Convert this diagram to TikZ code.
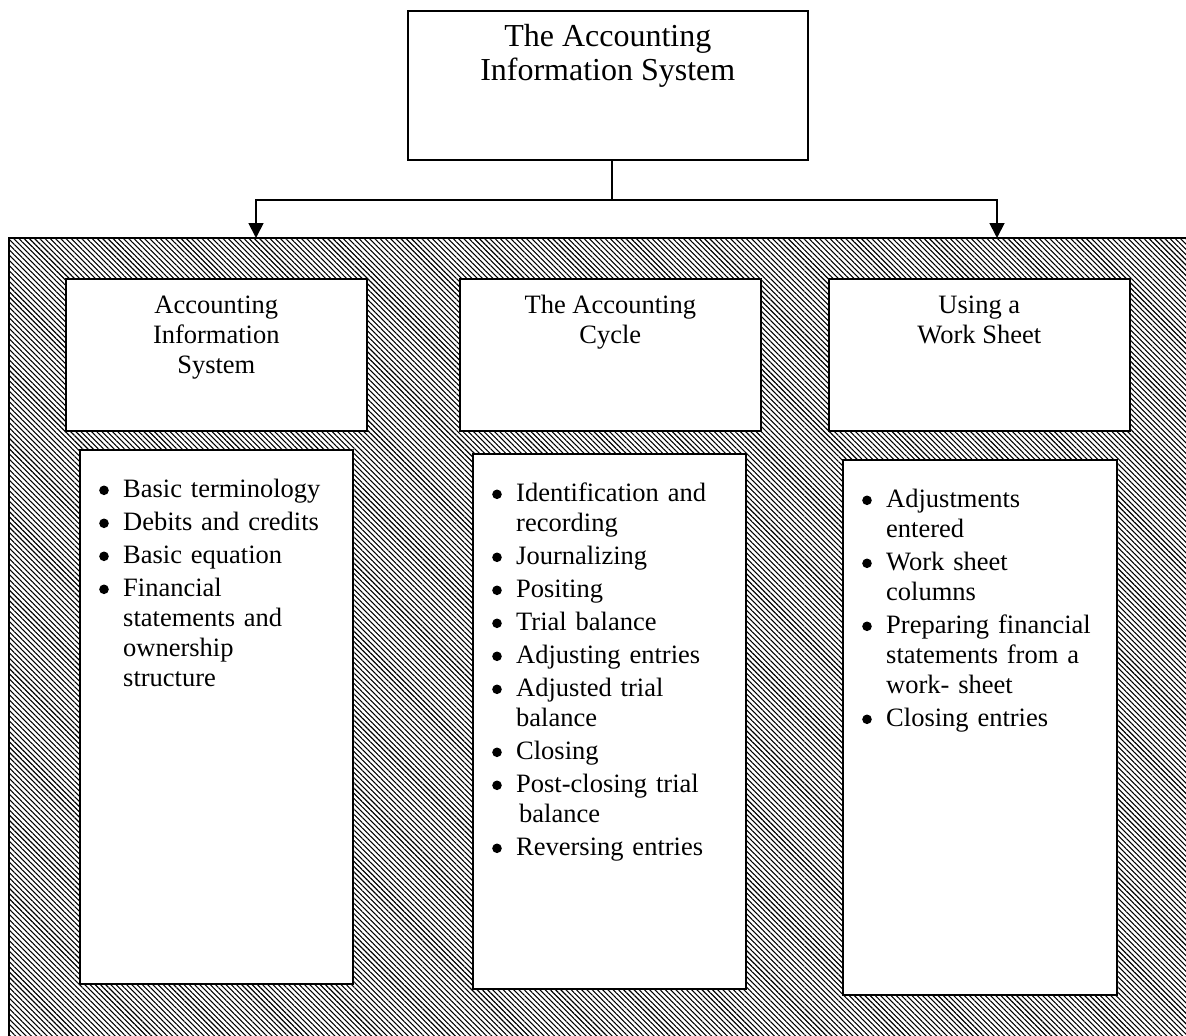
\documentclass[tikz,border=0pt]{standalone}
\usepackage{fontspec}
\setmainfont{Liberation Serif}
\usetikzlibrary{patterns.meta,arrows.meta}
\newsavebox\bulbox
\newcommand\bitem[1]{\par\parshape 2 0pt 250pt 24pt 226pt\noindent\makebox[24pt][l]{\raisebox{2.1pt}{\usebox\bulbox}}#1}
\newcommand\listsetup{\setlength{\parskip}{3pt}\rightskip=0pt plus 1fil\relax}
\begin{document}
\sbox\bulbox{\begin{pgfpicture}\pgfpathcircle{\pgfpointorigin}{4.8pt}\pgfusepath{fill}\end{pgfpicture}}%
\begin{tikzpicture}[x=1pt,y=-1pt,
  box/.style={draw,line width=1.6pt,fill=white,rectangle,inner sep=0pt,anchor=north west},
  hdrtext/.style={anchor=north,inner sep=0pt,align=center,font=\fontsize{26.5}{30}\selectfont},
  listtext/.style={anchor=north west,inner sep=0pt,text width=250pt,
     font=\fontsize{26.5}{30}\selectfont},
  conn/.style={line width=1.8pt},
  arr/.style={conn,-{Triangle[width=15pt,length=15pt]}}]
\useasboundingbox (0,0) rectangle (1186,1036);
\begin{scope}
  \clip (0,0) rectangle (1186,1036);
  \path[draw,line width=1.6pt,pattern={Lines[angle=-45,distance=3.7pt,line width=1.1pt]}]
    (9,238) rectangle (1220,1070);
\end{scope}
% top box
\node[box,minimum width=400pt,minimum height=149pt] (top) at (407,10) {};
\node[anchor=north,inner sep=0pt,align=center,font=\fontsize{32}{34}\selectfont] (toptext)
  at ([yshift=-10pt]top.north) {\rule{0pt}{26pt}The Accounting\\Information System};
% connectors
\coordinate (j) at (612,200);
\coordinate (a1) at (256,238);
\coordinate (a2) at (997,238);
\draw[conn] (top.south -| j) -- (j);
\draw[arr] (j) -| (a1);
\draw[arr] (j) -| (a2);
% headers
\node[box,minimum width=301pt,minimum height=152pt] (h1) at (65,278) {};
\node[box,minimum width=301pt,minimum height=152pt] (h2) at (459,278) {};
\node[box,minimum width=301pt,minimum height=152pt] (h3) at (828,278) {};
\node[hdrtext] (h1t) at ([yshift=-13pt]h1.north) {\rule{0pt}{22pt}Accounting\\Information\\System};
\node[hdrtext] (h2t) at ([yshift=-13pt]h2.north) {\rule{0pt}{22pt}The Accounting\\Cycle};
\node[hdrtext] (h3t) at ([yshift=-13pt]h3.north) {\rule{0pt}{22pt}Using a\\Work Sheet};
% lists
\node[box,minimum width=273pt,minimum height=534pt] (l1) at (79,449) {};
\node[box,minimum width=273pt,minimum height=535pt] (l2) at (472,453) {};
\node[box,minimum width=274pt,minimum height=535pt] (l3) at (842,459) {};
\node[listtext] (l1t) at ([xshift=20pt,yshift=-15pt]l1.north west) {\listsetup
\bitem{\rule{0pt}{22pt}Basic terminology}
\bitem{Debits and credits}
\bitem{Basic equation}
\bitem{Financial\newline statements and\newline ownership\newline structure}\par};
\node[listtext] (l2t) at ([xshift=20pt,yshift=-15pt]l2.north west) {\listsetup
\bitem{\rule{0pt}{22pt}Identification and\newline recording}
\bitem{Journalizing}
\bitem{Positing}
\bitem{Trial balance}
\bitem{Adjusting entries}
\bitem{Adjusted trial\newline balance}
\bitem{Closing}
\bitem{Post-closing trial\newline\hspace*{3pt}balance}
\bitem{Reversing entries}\par};
\node[listtext] (l3t) at ([xshift=20pt,yshift=-15pt]l3.north west) {\listsetup
\bitem{\rule{0pt}{22pt}Adjustments\newline entered}
\bitem{Work sheet\newline columns}
\bitem{Preparing financial\newline statements from a\newline work- sheet}
\bitem{Closing entries}\par};
\end{tikzpicture}
\end{document}
